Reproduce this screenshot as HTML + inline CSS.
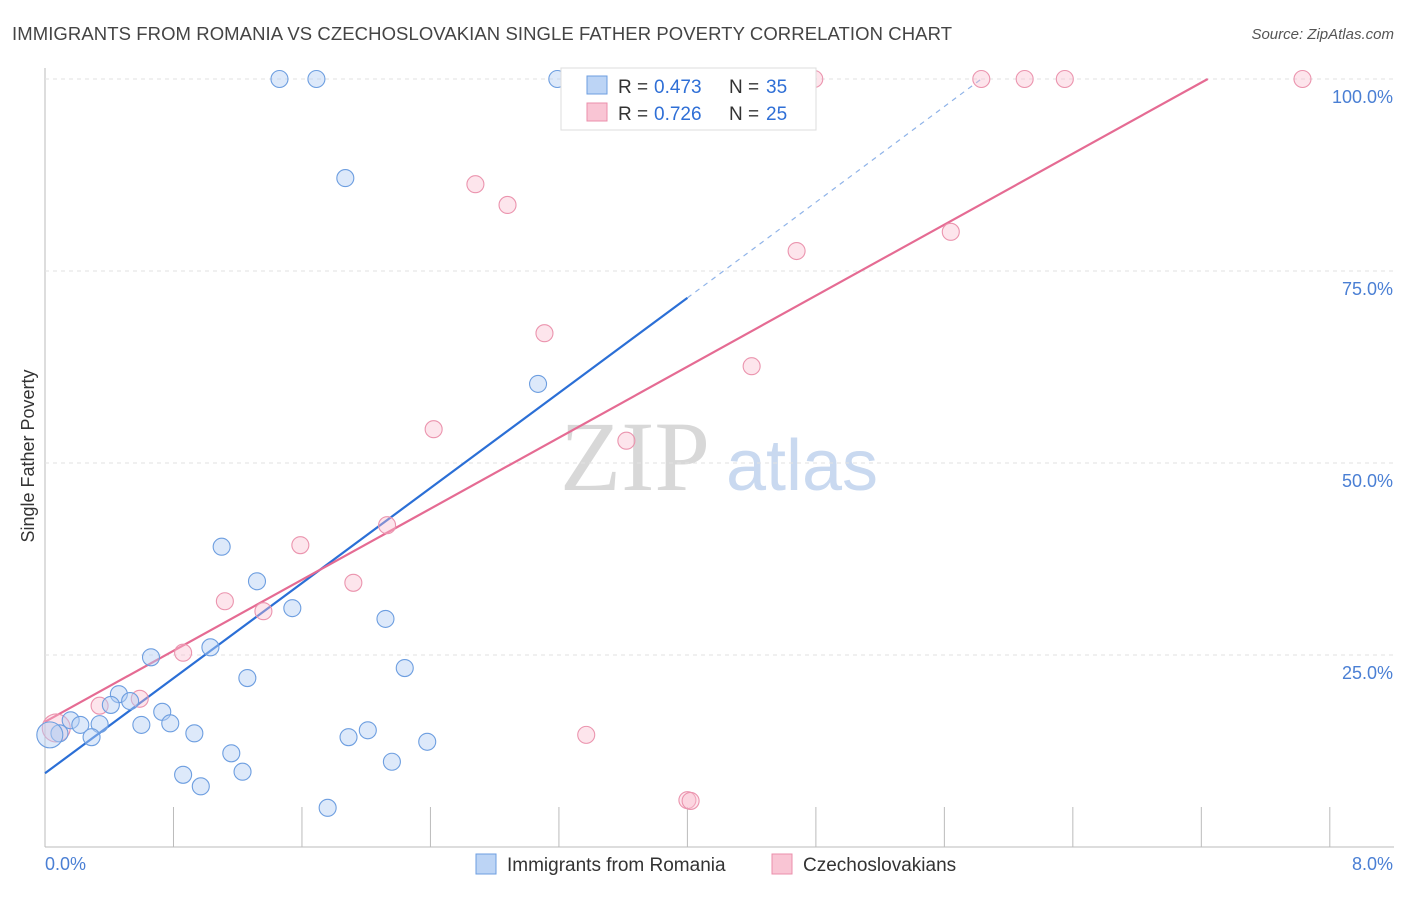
<!DOCTYPE html>
<html><head><meta charset="utf-8"><style>
body{margin:0;background:#fff;font-family:"Liberation Sans",sans-serif;}
</style></head><body>
<svg id="chart" width="1406" height="892" font-family="Liberation Sans, sans-serif">
<text x="12" y="40" font-size="18.5" fill="#444" textLength="940">IMMIGRANTS FROM ROMANIA VS CZECHOSLOVAKIAN SINGLE FATHER POVERTY CORRELATION CHART</text>
<text x="1394" y="39" font-size="15" fill="#555" font-style="italic" text-anchor="end">Source: ZipAtlas.com</text>
<text x="0" y="0" transform="translate(34,456) rotate(-90)" font-size="18" fill="#333" text-anchor="middle">Single Father Poverty</text>
<g><text x="635" y="490" font-size="100" fill="#d8d8d8" style="font-family:'Liberation Serif',serif" text-anchor="middle">ZIP</text><text x="802" y="490" font-size="72" fill="#c9d9f0" text-anchor="middle">atlas</text></g>
<g id="grid"></g><g id="lines"></g><g id="pts"></g>
<g>
<rect x="561" y="68" width="255" height="62" fill="#fff" stroke="#ddd"/>
<rect x="587" y="76" width="20" height="18" fill="#bcd4f5" stroke="#6d9ee0"/>
<rect x="587" y="103" width="20" height="18" fill="#f9c5d4" stroke="#eb8fab"/>
<text x="618" y="93" font-size="19" fill="#333">R =</text><text x="654" y="93" font-size="19" fill="#2f6fd6">0.473</text>
<text x="729" y="93" font-size="19" fill="#333">N =</text><text x="766" y="93" font-size="19" fill="#2f6fd6">35</text>
<text x="618" y="120" font-size="19" fill="#333">R =</text><text x="654" y="120" font-size="19" fill="#2f6fd6">0.726</text>
<text x="729" y="120" font-size="19" fill="#333">N =</text><text x="766" y="120" font-size="19" fill="#2f6fd6">25</text>
</g>
<g>
<rect x="476" y="854" width="20" height="20" fill="#bcd4f5" stroke="#6d9ee0"/>
<text x="507" y="871" font-size="19" fill="#333">Immigrants from Romania</text>
<rect x="772" y="854" width="20" height="20" fill="#f9c5d4" stroke="#eb8fab"/>
<text x="803" y="871" font-size="19" fill="#333">Czechoslovakians</text>
</g>
</svg>
<script>
const xTicks=[0,0.8,1.6,2.4,3.2,4.0,4.8,5.6,6.4,7.2,8.0];
const yTicks=[25,50,75,100];
const yTickLabels=["25.0%","50.0%","75.0%","100.0%"];
const blueX=[1.46,1.69,3.19,1.87,3.07,1.10,1.32,1.54,2.12,0.66,1.03,1.26,2.24,0.46,0.53,0.41,0.73,0.16,0.22,0.34,0.60,0.78,0.93,0.09,0.29,0.03,1.89,2.01,2.38,1.16,1.23,0.86,2.16,0.97,1.76];
const blueY=[100,100,100,87.1,60.3,39.1,34.6,31.1,29.7,24.7,26.0,22.0,23.3,19.9,19.0,18.5,17.6,16.5,15.9,16.0,15.9,16.1,14.8,14.8,14.3,14.6,14.3,15.2,13.7,12.2,9.8,9.4,11.1,7.9,5.1];
const pinkX=[4.79,5.83,6.10,6.35,7.83,2.68,2.88,5.64,4.68,3.11,4.40,2.42,3.62,2.13,1.59,1.92,1.12,1.36,0.86,0.59,0.34,3.37,0.07,4.00,4.02];
const pinkY=[100,100,100,100,100,86.3,83.6,80.1,77.6,66.9,62.6,54.4,52.9,41.9,39.3,34.4,32.0,30.7,25.3,19.3,18.4,14.6,15.5,6.1,6.0];
const blueLine=[0,9.6,4.0,71.5,5.83,100];
const pinkLine=[0,16.3,7.24,100];
const NS="http://www.w3.org/2000/svg";
const sx=v=>45+v*160.6, sy=v=>847-v*7.68;
function mk(p,t,a){const e=document.createElementNS(NS,t);for(const k in a)e.setAttribute(k,a[k]);p.appendChild(e);return e;}
const grid=document.getElementById('grid'),lines=document.getElementById('lines'),pts=document.getElementById('pts');
let ax=mk(grid,'line',{x1:45,y1:68,x2:45,y2:847,stroke:'#bbb'});


let bx=mk(grid,'line',{x1:45,y1:847,x2:1394,y2:847,stroke:'#bbb'});


yTicks.forEach((v,i)=>{
 let g=mk(grid,'line',{x1:45,y1:sy(v),x2:1394,y2:sy(v),stroke:'#e2e2e2','stroke-dasharray':'4,4'});
 
 
 let t=mk(grid,'text',{x:1393,y:sy(v)+24,'font-size':18,fill:'#4a7fd4','text-anchor':'end'});t.textContent=yTickLabels[i];
 
 
});
xTicks.forEach((v,i)=>{ if(i==0)return;
 let t=mk(grid,'line',{x1:sx(v),y1:807,x2:sx(v),y2:847,stroke:'#bbb'});
 
 
});
let l0=mk(grid,'text',{x:45,y:870,'font-size':18,fill:'#4a7fd4'});l0.textContent='0.0%';


let l1=mk(grid,'text',{x:1393,y:870,'font-size':18,fill:'#4a7fd4','text-anchor':'end'});l1.textContent='8.0%';


function dot(x,y,r,f,s,name){let c=mk(pts,'circle',{cx:sx(x),cy:sy(y),r:r,fill:f,stroke:s,'stroke-width':1.1});
 
 }
pinkX.forEach((x,i)=>dot(x,pinkY[i],i==22?14:8.5,'rgba(249,190,208,0.4)','#eb94ae','pink-point'));
blueX.forEach((x,i)=>dot(x,blueY[i],i==25?13:8.5,'rgba(180,206,244,0.45)','#6d9ee0','blue-point'));
let bl=mk(lines,'line',{x1:sx(blueLine[0]),y1:sy(blueLine[1]),x2:sx(blueLine[2]),y2:sy(blueLine[3]),stroke:'#2b6fd6','stroke-width':2.2});


let bd=mk(lines,'line',{x1:sx(blueLine[2]),y1:sy(blueLine[3]),x2:sx(blueLine[4]),y2:sy(blueLine[5]),stroke:'#8fb3e8','stroke-width':1.2,'stroke-dasharray':'5,5'});


let pl=mk(lines,'line',{x1:sx(pinkLine[0]),y1:sy(pinkLine[1]),x2:sx(pinkLine[2]),y2:sy(pinkLine[3]),stroke:'#e56b93','stroke-width':2.2});


</script>
</body></html>
